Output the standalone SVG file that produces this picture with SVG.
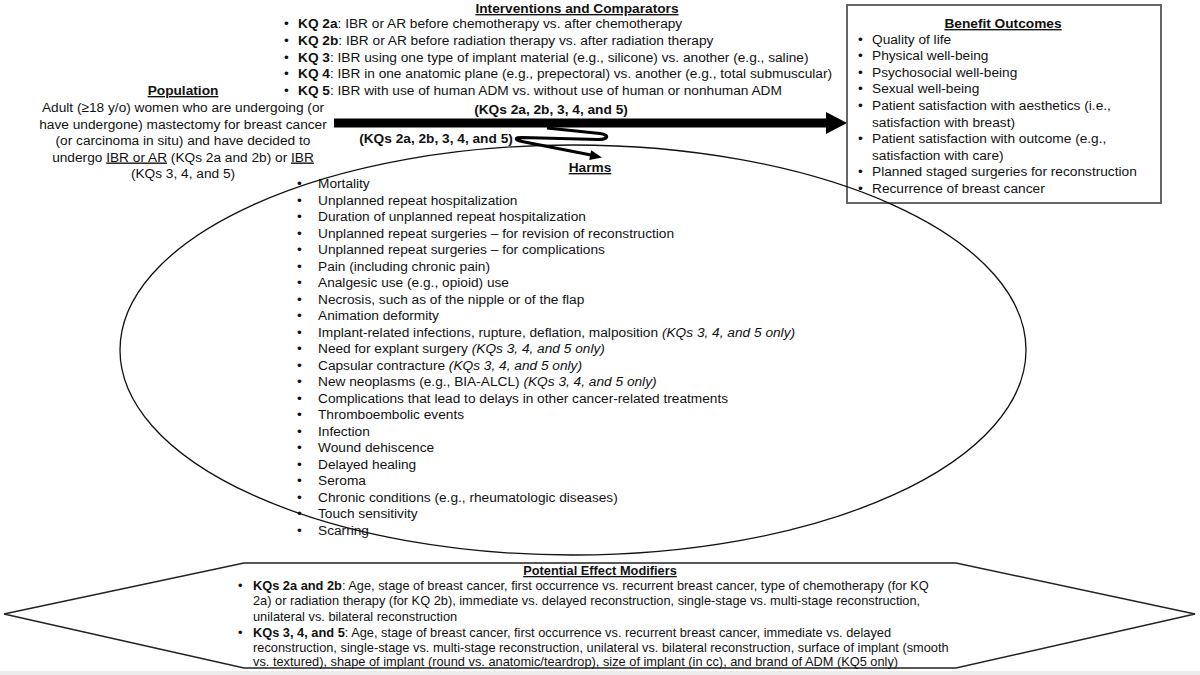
<svg xmlns="http://www.w3.org/2000/svg" width="1200" height="675" viewBox="0 0 1200 675">
<style>
text{font-family:"Liberation Sans",Arial,Helvetica,sans-serif;font-size:13.7px;fill:#111}
.t{font-weight:bold;text-decoration:underline}
.c{text-anchor:middle}
.b{font-weight:bold}
.i{font-style:italic}
.u{text-decoration:underline}
.m text{font-size:12.8px}
</style>
<rect x="0" y="0" width="1200" height="675" fill="#fff"/>
<rect x="0" y="671" width="1200" height="4" fill="#ececec"/>

<g id="benefit-outcomes">
<rect x="847" y="5" width="314" height="198" fill="#fff" stroke="#666" stroke-width="2"/>
<text x="1003" y="28" class="t c">Benefit Outcomes</text>
<text x="858" y="43.5">•</text><text x="872" y="43.5">Quality of life</text>
<text x="858" y="60.1">•</text><text x="872" y="60.1">Physical well-being</text>
<text x="858" y="76.7">•</text><text x="872" y="76.7">Psychosocial well-being</text>
<text x="858" y="93.3">•</text><text x="872" y="93.3">Sexual well-being</text>
<text x="858" y="109.9">•</text><text x="872" y="109.9">Patient satisfaction with aesthetics (i.e.,</text>
<text x="872" y="126.5">satisfaction with breast)</text>
<text x="858" y="143.1">•</text><text x="872" y="143.1">Patient satisfaction with outcome (e.g.,</text>
<text x="872" y="159.7">satisfaction with care)</text>
<text x="858" y="176.3">•</text><text x="872" y="176.3">Planned staged surgeries for reconstruction</text>
<text x="858" y="192.9">•</text><text x="872" y="192.9">Recurrence of breast cancer</text>
</g>

<g id="harms">
<ellipse cx="573" cy="350" rx="453" ry="205" fill="none" stroke="#111" stroke-width="1.3"/>
<text x="590" y="172" class="t c">Harms</text>
<g>
<text x="297" y="188">•</text><text x="318" y="188">Mortality</text>
<text x="297" y="204.5">•</text><text x="318" y="204.5">Unplanned repeat hospitalization</text>
<text x="297" y="221">•</text><text x="318" y="221">Duration of unplanned repeat hospitalization</text>
<text x="297" y="237.6">•</text><text x="318" y="237.6">Unplanned repeat surgeries – for revision of reconstruction</text>
<text x="297" y="254.1">•</text><text x="318" y="254.1">Unplanned repeat surgeries – for complications</text>
<text x="297" y="270.6">•</text><text x="318" y="270.6">Pain (including chronic pain)</text>
<text x="297" y="287.1">•</text><text x="318" y="287.1">Analgesic use (e.g., opioid) use</text>
<text x="297" y="303.6">•</text><text x="318" y="303.6">Necrosis, such as of the nipple or of the flap</text>
<text x="297" y="320.2">•</text><text x="318" y="320.2">Animation deformity</text>
<text x="297" y="336.7">•</text><text x="318" y="336.7">Implant-related infections, rupture, deflation, malposition <tspan class="i">(KQs 3, 4, and 5 only)</tspan></text>
<text x="297" y="353.2">•</text><text x="318" y="353.2">Need for explant surgery <tspan class="i">(KQs 3, 4, and 5 only)</tspan></text>
<text x="297" y="369.7">•</text><text x="318" y="369.7">Capsular contracture <tspan class="i">(KQs 3, 4, and 5 only)</tspan></text>
<text x="297" y="386.2">•</text><text x="318" y="386.2">New neoplasms (e.g., BIA-ALCL) <tspan class="i">(KQs 3, 4, and 5 only)</tspan></text>
<text x="297" y="402.8">•</text><text x="318" y="402.8">Complications that lead to delays in other cancer-related treatments</text>
<text x="297" y="419.3">•</text><text x="318" y="419.3">Thromboembolic events</text>
<text x="297" y="435.8">•</text><text x="318" y="435.8">Infection</text>
<text x="297" y="452.3">•</text><text x="318" y="452.3">Wound dehiscence</text>
<text x="297" y="468.8">•</text><text x="318" y="468.8">Delayed healing</text>
<text x="297" y="485.4">•</text><text x="318" y="485.4">Seroma</text>
<text x="297" y="501.9">•</text><text x="318" y="501.9">Chronic conditions (e.g., rheumatologic diseases)</text>
<text x="297" y="518.4">•</text><text x="318" y="518.4">Touch sensitivity</text>
<text x="297" y="534.9">•</text><text x="318" y="534.9">Scarring</text>
</g>
</g>

<g id="population">
<text x="183" y="95" class="t c">Population</text>
<text x="183" y="112" class="c">Adult (≥18 y/o) women who are undergoing (or</text>
<text x="183" y="128.5" class="c">have undergone) mastectomy for breast cancer</text>
<text x="183" y="145" class="c">(or carcinoma in situ) and have decided to</text>
<text x="183" y="161.5" class="c">undergo <tspan class="u">IBR or AR</tspan> (KQs 2a and 2b) or <tspan class="u">IBR</tspan></text>
<text x="183" y="178" class="c">(KQs 3, 4, and 5)</text>
</g>

<g id="interventions-comparators">
<text x="577" y="13" class="t c">Interventions and Comparators</text>
<text x="284" y="28">•</text><text x="298" y="28"><tspan class="b">KQ 2a</tspan>: IBR or AR before chemotherapy vs. after chemotherapy</text>
<text x="284" y="44.8">•</text><text x="298" y="44.8"><tspan class="b">KQ 2b</tspan>: IBR or AR before radiation therapy vs. after radiation therapy</text>
<text x="284" y="61.6">•</text><text x="298" y="61.6"><tspan class="b">KQ 3</tspan>: IBR using one type of implant material (e.g., silicone) vs. another (e.g., saline)</text>
<text x="284" y="78.4">•</text><text x="298" y="78.4"><tspan class="b">KQ 4</tspan>: IBR in one anatomic plane (e.g., prepectoral) vs. another (e.g., total submuscular)</text>
<text x="284" y="95.2">•</text><text x="298" y="95.2"><tspan class="b">KQ 5</tspan>: IBR with use of human ADM vs. without use of human or nonhuman ADM</text>
</g>

<g id="connectors">
<polygon points="334,118.5 826,118.5 826,112 847,123 826,134 826,127.5 334,127.5" fill="#000"/>
<text x="551" y="114" class="b c">(KQs 2a, 2b, 3, 4, and 5)</text>
<path d="M547,128 L600,133.5 C610,135 608,139.5 598,139.5 L522,137.5 C514,137.5 515,140 522,141.5 L591,155" fill="none" stroke="#000" stroke-width="3.2" stroke-linejoin="round"/>
<polygon points="602,157.5 591.2,150.2 589.2,160" fill="#000"/>
<text x="436" y="142.5" class="b c">(KQs 2a, 2b, 3, 4, and 5)</text>
</g>

<g id="effect-modifiers" class="m">
<polygon points="4,614 244,563 956,563 1195,614 956,668 244,668" fill="none" stroke="#222" stroke-width="1.5"/>
<text x="600" y="575" class="t c">Potential Effect Modifiers</text>
<text x="238" y="590">•</text><text x="253" y="590"><tspan class="b">KQs 2a and 2b</tspan>: Age, stage of breast cancer, first occurrence vs. recurrent breast cancer, type of chemotherapy (for KQ</text>
<text x="253" y="605">2a) or radiation therapy (for KQ 2b), immediate vs. delayed reconstruction, single-stage vs. multi-stage reconstruction,</text>
<text x="253" y="620.5">unilateral vs. bilateral reconstruction</text>
<text x="238" y="636.5">•</text><text x="253" y="636.5"><tspan class="b">KQs 3, 4, and 5</tspan>: Age, stage of breast cancer, first occurrence vs. recurrent breast cancer, immediate vs. delayed</text>
<text x="253" y="651.5">reconstruction, single-stage vs. multi-stage reconstruction, unilateral vs. bilateral reconstruction, surface of implant (smooth</text>
<text x="253" y="665.5">vs. textured), shape of implant (round vs. anatomic/teardrop), size of implant (in cc), and brand of ADM (KQ5 only)</text>
</g>
</svg>
